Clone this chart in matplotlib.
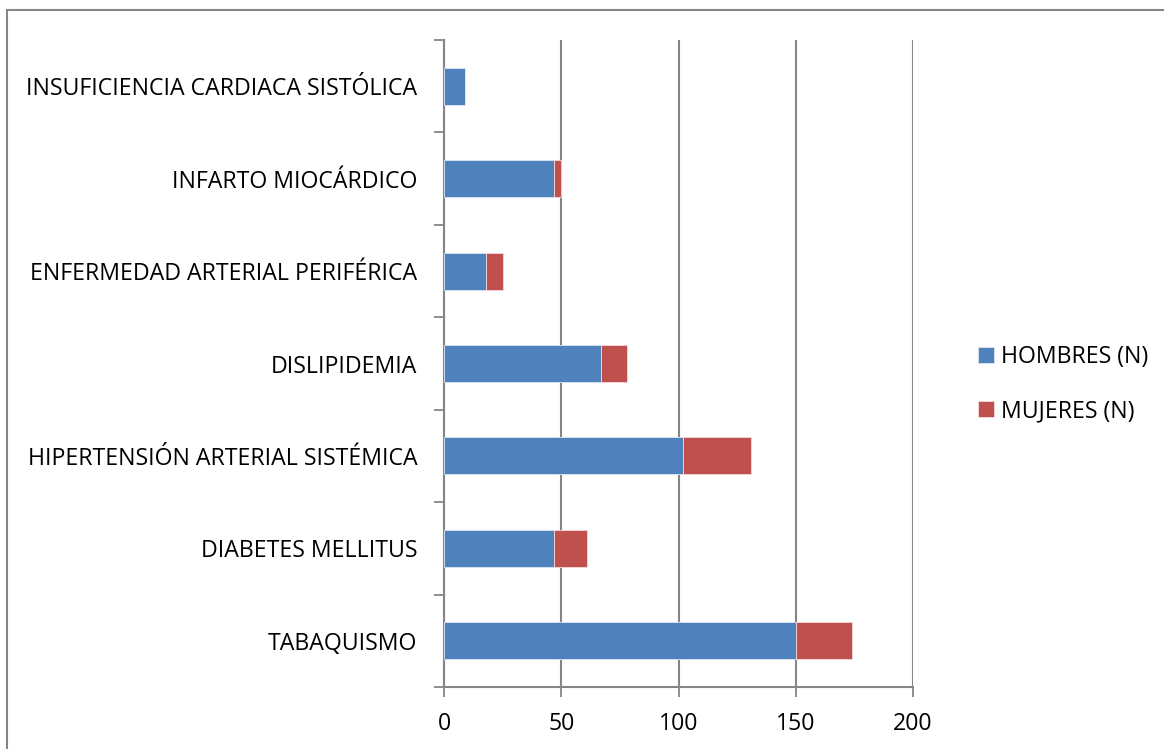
import matplotlib.pyplot as plt
from matplotlib.patches import Rectangle
import numpy as np

categorias = ['TABAQUISMO', 'DIABETES MELLITUS', 'HIPERTENSIÓN ARTERIAL SISTÉMICA',
              'DISLIPIDEMIA', 'ENFERMEDAD ARTERIAL PERIFÉRICA', 'INFARTO MIOCÁRDICO',
              'INSUFICIENCIA CARDIACA SISTÓLICA']
hombres = [150, 47, 102, 67, 18, 47, 9]
mujeres = [24, 14, 29, 11, 7, 3, 0]
xticks = [0, 50, 100, 150, 200]

azul = '#4F81BD'
rojo = '#C0504D'
gris = '#868686'
fs = 16.7

plt.rcParams['font.family'] = ['Open Sans', 'DejaVu Sans']

fig = plt.figure(figsize=(11.64, 7.49), dpi=100)
# marco exterior del gráfico
fig.patches.append(Rectangle((7 / 1164, -0.1), 1.2, 1 - 10 / 749 + 0.1,
                             transform=fig.transFigure, fill=False,
                             edgecolor=gris, lw=1.5))

ax = fig.add_axes([444 / 1164, 1 - 687 / 749, (913 - 444) / 1164, (687 - 40) / 749])
y = np.arange(len(categorias))
ax.barh(y, hombres, height=0.4, color=azul, edgecolor='#DCE6F2', lw=0.6,
        label='HOMBRES (N)', zorder=3)
ax.barh(y, mujeres, left=hombres, height=0.4, color=rojo, edgecolor='#F2DCDB', lw=0.6,
        label='MUJERES (N)', zorder=3)

ax.set_xlim(0, 200)
ax.set_ylim(-0.5, len(categorias) - 0.5)
ax.set_xticks(xticks)
ax.set_yticks(y)
ax.set_yticklabels(categorias)
ax.set_yticks(np.arange(-0.5, len(categorias)), minor=True)
ax.tick_params(axis='y', which='major', length=0, pad=19, labelsize=fs)
ax.tick_params(axis='y', which='minor', length=7, width=1.3, color=gris)
ax.tick_params(axis='x', length=7, width=1.3, color=gris, labelsize=fs, pad=11)

ax.grid(axis='x', color=gris, lw=1.5, zorder=0)
for s in ['top', 'right']:
    ax.spines[s].set_visible(False)
for s in ['left', 'bottom']:
    ax.spines[s].set_color(gris)
    ax.spines[s].set_linewidth(1.5)

ax.legend(loc='center left', bbox_to_anchor=(957 / 1164, 1 - 384 / 749),
          bbox_transform=fig.transFigure, frameon=False, fontsize=fs,
          handlelength=0.7, handleheight=0.7, handletextpad=0.3, labelspacing=1.3)

fig.savefig('out.png', dpi=100)
